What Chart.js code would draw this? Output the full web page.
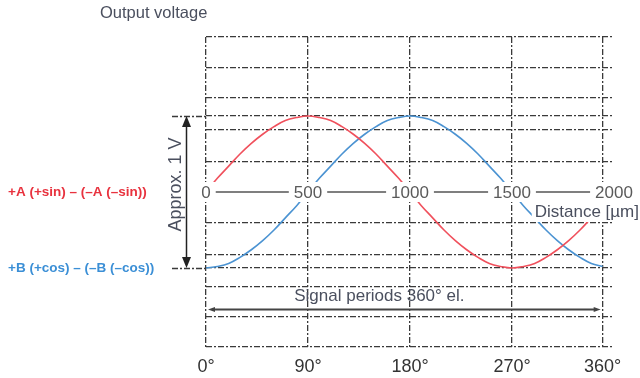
<!DOCTYPE html>
<html>
<head>
<meta charset="utf-8">
<script src="https://cdn.jsdelivr.net/npm/chart.js@4.4.1/dist/chart.umd.min.js"></script>
<style>
html, body { margin: 0; padding: 0; background: #fff; }
</style>
</head>
<body>
<canvas id="signalChart" width="640" height="378"></canvas>
<script>
// Data (degrees el. / volts)
const degrees = [0, 10, 20, 30, 40, 50, 60, 70, 80, 90, 100, 110, 120, 130, 140, 150, 160, 170,
                 180, 190, 200, 210, 220, 230, 240, 250, 260, 270, 280, 290, 300, 310, 320, 330, 340, 350];
const sinA = [0, 0.09, 0.17, 0.25, 0.32, 0.38, 0.43, 0.47, 0.49, 0.5, 0.49, 0.47, 0.43, 0.38, 0.32, 0.25, 0.17, 0.09,
              0, -0.09, -0.17, -0.25, -0.32, -0.38, -0.43, -0.47, -0.49, -0.5, -0.49, -0.47, -0.43, -0.38, -0.32, -0.25, -0.17, -0.09];
const cosB = [-0.5, -0.49, -0.47, -0.43, -0.38, -0.32, -0.25, -0.17, -0.09, 0, 0.09, 0.17, 0.25, 0.32, 0.38, 0.43, 0.47, 0.49,
              0.5, 0.49, 0.47, 0.43, 0.38, 0.32, 0.25, 0.17, 0.09, 0, -0.09, -0.17, -0.25, -0.32, -0.38, -0.43, -0.47, -0.49];

const degreeTicks = [0, 90, 180, 270, 350];
const degreeLabels = ['0°', '90°', '180°', '270°', '360°'];
const distanceTicks = [0, 500, 1000, 1500, 2000];
const voltTicks = [-1.02, -0.82, -0.62, -0.5, -0.41, -0.2, 0.2, 0.41, 0.5, 0.62, 0.82, 1.02];
const peakLevels = [0.5, -0.5];
const periodLevel = -0.77;

const red = '#f0505c';
const blue = '#4b93d2';
const gridColor = '#3a3a3a';
const gridDash = [6, 2, 2, 2];
const textColor = '#4a4f5e';

Chart.defaults.font.family = '"Liberation Sans", Arial, Helvetica, sans-serif';

function arrowHead(ctx, x, y, dir, len, half, vertical) {
    ctx.beginPath();
    if (vertical) {
        ctx.moveTo(x, y);
        ctx.lineTo(x - half, y + dir * len);
        ctx.lineTo(x + half, y + dir * len);
    } else {
        ctx.moveTo(x, y);
        ctx.lineTo(x + dir * len, y - half);
        ctx.lineTo(x + dir * len, y + half);
    }
    ctx.closePath();
    ctx.fill();
}

// Extra drawing: distance axis, arrows and texts
const extras = {
    id: 'extras',
    beforeDatasetsDraw(chart) {
        const ctx = chart.ctx;
        const y = chart.scales.y;
        const area = chart.chartArea;
        ctx.save();
        ctx.strokeStyle = gridColor;
        ctx.lineWidth = 1.3;
        ctx.setLineDash(gridDash);
        peakLevels.forEach(v => {
            const py = Math.round(y.getPixelForValue(v)) + 0.5;
            ctx.beginPath();
            ctx.moveTo(area.left - 34, py);
            ctx.lineTo(area.left, py);
            ctx.stroke();
        });
        ctx.restore();
    },
    afterDatasetsDraw(chart) {
        const ctx = chart.ctx;
        const x = chart.scales.x;
        const y = chart.scales.y;
        const dist = chart.scales.dist;
        const area = chart.chartArea;
        ctx.save();

        // distance axis on the zero line
        const y0 = y.getPixelForValue(0);
        ctx.strokeStyle = '#555';
        ctx.lineWidth = 1.3;
        ctx.beginPath();
        ctx.moveTo(dist.getPixelForValue(distanceTicks[0]), y0);
        ctx.lineTo(dist.getPixelForValue(distanceTicks[distanceTicks.length - 1]), y0);
        ctx.stroke();

        ctx.font = '17px "Liberation Sans", Arial, sans-serif';
        ctx.textAlign = 'center';
        ctx.textBaseline = 'middle';
        distanceTicks.forEach(v => {
            const px = dist.getPixelForValue(v);
            const w = ctx.measureText(String(v)).width;
            ctx.fillStyle = '#fff';
            ctx.fillRect(px - w / 2 - 5, y0 - 10, w + 10, 20);
            ctx.fillStyle = '#5a5a5a';
            ctx.fillText(String(v), px, y0 + 1);
        });

        // Distance [µm]
        ctx.textAlign = 'right';
        const dLabel = 'Distance [µm]';
        const dw = ctx.measureText(dLabel).width;
        ctx.fillStyle = '#fff';
        ctx.fillRect(chart.width - dw - 4, y0 + 9, dw + 4, 21);
        ctx.fillStyle = textColor;
        ctx.fillText(dLabel, chart.width - 1, y0 + 20);

        // Signal periods arrow
        const ya = Math.round(y.getPixelForValue(periodLevel)) + 0.5;
        const xs = x.getPixelForValue(degreeTicks[0]) + 2;
        const xe = x.getPixelForValue(degreeTicks[degreeTicks.length - 1]) - 2;
        ctx.strokeStyle = '#444';
        ctx.fillStyle = '#444';
        ctx.lineWidth = 2;
        ctx.beginPath();
        ctx.moveTo(xs + 4, ya);
        ctx.lineTo(xe - 4, ya);
        ctx.stroke();
        arrowHead(ctx, xs, ya, 1, 7, 2.5, false);
        arrowHead(ctx, xe, ya, -1, 7, 2.5, false);

        ctx.textAlign = 'center';
        ctx.fillStyle = textColor;
        ctx.fillText('Signal periods 360° el.', x.getPixelForValue(153), ya - 13);

        // Approx. 1 V arrow
        const ax = area.left - 19.5;
        const yt = y.getPixelForValue(peakLevels[0]);
        const yb = y.getPixelForValue(peakLevels[1]);
        ctx.strokeStyle = '#222';
        ctx.fillStyle = '#222';
        ctx.lineWidth = 1.5;
        ctx.beginPath();
        ctx.moveTo(ax, yt + 8);
        ctx.lineTo(ax, yb - 8);
        ctx.stroke();
        arrowHead(ctx, ax, yt, 1, 11, 4.5, true);
        arrowHead(ctx, ax, yb, -1, 11, 4.5, true);

        ctx.save();
        ctx.translate(area.left - 30, y.getPixelForValue(0.05));
        ctx.rotate(-Math.PI / 2);
        ctx.font = '18px "Liberation Sans", Arial, sans-serif';
        ctx.fillStyle = textColor;
        ctx.fillText('Approx. 1 V', 0, 0);
        ctx.restore();

        // Signal names
        ctx.textAlign = 'left';
        ctx.font = 'bold 13.5px "Liberation Sans", Arial, sans-serif';
        ctx.fillStyle = '#e8323e';
        ctx.fillText('+A (+sin) – (–A (–sin))', 8, y.getPixelForValue(0));
        ctx.fillStyle = '#3b8fd6';
        ctx.fillText('+B (+cos) – (–B (–cos))', 8, y.getPixelForValue(-0.5));

        // Title
        ctx.font = '16.5px "Liberation Sans", Arial, sans-serif';
        ctx.fillStyle = textColor;
        ctx.fillText('Output voltage', 100, 13);

        ctx.restore();
    }
};

const ctx = document.getElementById('signalChart').getContext('2d');
const signalChart = new Chart(ctx, {
    type: 'line',
    data: {
        datasets: [
            {
                label: '+A (+sin) – (–A (–sin))',
                data: degrees.map((d, i) => ({ x: d, y: sinA[i] })),
                borderColor: red,
                borderWidth: 1.6,
                pointRadius: 0,
                tension: 0.4,
                fill: false
            },
            {
                label: '+B (+cos) – (–B (–cos))',
                data: degrees.map((d, i) => ({ x: d, y: cosB[i] })),
                borderColor: blue,
                borderWidth: 1.6,
                pointRadius: 0,
                tension: 0.4,
                fill: false
            }
        ]
    },
    options: {
        responsive: false,
        animation: false,
        devicePixelRatio: 1,
        layout: {
            padding: { left: 206, right: 26, top: 37, bottom: 0 }
        },
        plugins: {
            legend: { display: false },
            tooltip: { enabled: false }
        },
        scales: {
            x: {
                type: 'linear',
                min: 0,
                max: 360,
                afterBuildTicks: s => { s.ticks = degreeTicks.map(v => ({ value: v })); },
                afterFit: s => { s.height = 31; },
                ticks: {
                    autoSkip: false,
                    maxRotation: 0,
                    padding: 9,
                    color: '#333',
                    font: { size: 18 },
                    callback: (v, i) => degreeLabels[i]
                },
                grid: { color: gridColor, lineWidth: 1.3, drawTicks: false },
                border: { display: false, dash: gridDash }
            },
            dist: {
                type: 'linear',
                axis: 'x',
                position: 'bottom',
                min: 0,
                max: 2000,
                display: false
            },
            y: {
                type: 'linear',
                min: -1.02,
                max: 1.02,
                afterBuildTicks: s => { s.ticks = voltTicks.map(v => ({ value: v })); },
                afterFit: s => { s.width = 0; },
                ticks: { display: false },
                grid: { color: gridColor, lineWidth: 1.3, drawTicks: false },
                border: { display: false, dash: gridDash }
            }
        }
    },
    plugins: [extras]
});
</script>
</body>
</html>
